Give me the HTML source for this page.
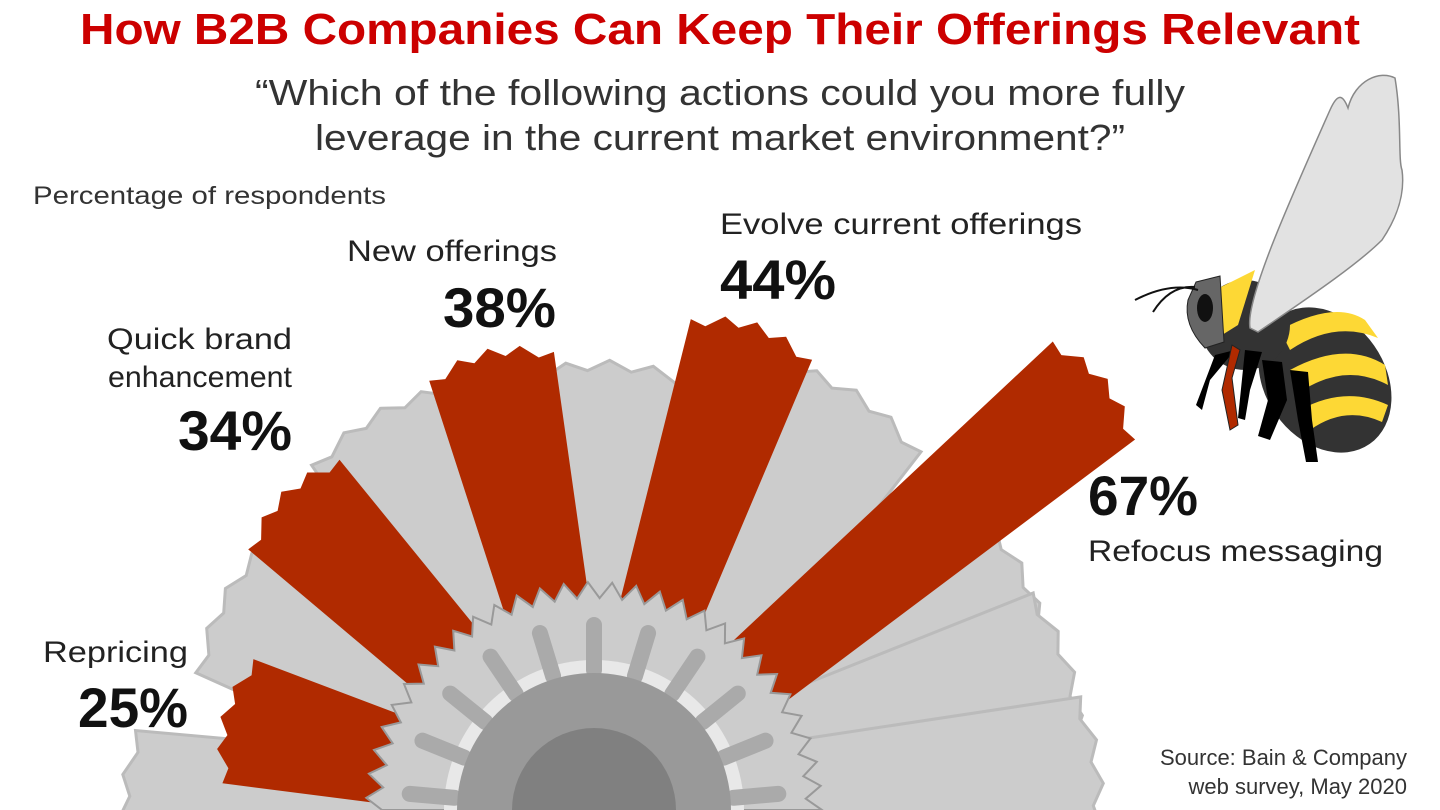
<!DOCTYPE html>
<html><head><meta charset="utf-8"><style>
html,body{margin:0;padding:0;background:#fff;overflow:hidden;}
svg{display:block;font-family:"Liberation Sans",sans-serif;}
</style></head><body>
<svg id="chart" width="1440" height="810" viewBox="0 0 1440 810" xmlns="http://www.w3.org/2000/svg">
<g id="petals"></g>
<g id="bars"></g>
<g id="center"></g>
<text x="720" y="44" text-anchor="middle" font-size="44" font-weight="bold" fill="#cc0000" textLength="1280" lengthAdjust="spacingAndGlyphs">How B2B Companies Can Keep Their Offerings Relevant</text>
<text x="720" y="105" text-anchor="middle" font-size="36" fill="#333" textLength="930" lengthAdjust="spacingAndGlyphs">“Which of the following actions could you more fully</text>
<text x="720" y="150" text-anchor="middle" font-size="36" fill="#333" textLength="810" lengthAdjust="spacingAndGlyphs">leverage in the current market environment?”</text>
<text x="33" y="204" font-size="25" fill="#333" textLength="353" lengthAdjust="spacingAndGlyphs">Percentage of respondents</text>
<g id="labels"></g>
<text x="1407" y="765" text-anchor="end" font-size="22" fill="#333">Source: Bain &amp; Company</text>
<text x="1407" y="794" text-anchor="end" font-size="22" fill="#333">web survey, May 2020</text>
<g>
 <ellipse cx="1325" cy="380" rx="60" ry="78" transform="rotate(-35 1325 380)" fill="#333"/>
 <path d="M1280,330 Q1335,300 1365,320 L1378,338 Q1335,320 1290,350 Z" fill="#fdd835"/>
 <path d="M1290,370 Q1345,340 1385,365 L1388,385 Q1345,362 1300,392 Z" fill="#fdd835"/>
 <path d="M1300,410 Q1345,385 1388,405 L1382,422 Q1345,405 1310,430 Z" fill="#fdd835"/>
 <ellipse cx="1245" cy="325" rx="45" ry="45" fill="#333"/>
 <path d="M1215,290 L1255,270 L1238,325 L1222,335 Z" fill="#fdd835"/>
 <path d="M1250,328 C1245,300 1290,200 1330,110 C1338,92 1343,95 1348,108 C1355,80 1380,70 1395,78 C1402,120 1398,160 1402,170 C1406,200 1392,225 1382,240 C1360,262 1320,290 1258,332 Z" fill="#e2e2e2" stroke="#888" stroke-width="1.5"/>
 <path d="M1196,282 L1220,276 L1224,342 L1205,348 Q1183,325 1188,300 Z" fill="#666" stroke="#222"/>
 <ellipse cx="1205" cy="308" rx="8" ry="14" fill="#111"/>
 <path d="M1198,290 Q1170,282 1135,300 M1195,287 Q1170,285 1153,312" stroke="#111" stroke-width="2" fill="none"/>
 <path d="M1215,355 L1235,350 L1210,380 L1202,410 L1196,405 Z M1245,350 L1262,352 L1250,390 L1245,420 L1238,418 Z M1262,360 L1282,362 L1287,400 L1270,440 L1258,436 L1268,400 Z M1290,370 L1308,372 L1312,420 L1318,462 L1306,462 L1298,420 Z" fill="#000"/>
 <path d="M1232,345 L1240,350 L1232,378 L1238,425 L1230,430 L1222,390 Z" fill="#b02a00" stroke="#222"/>
</g>
</svg>
<script>
const categories = ["Repricing","Quick brand enhancement","New offerings","Evolve current offerings","Refocus messaging"];
const values = [25,34,38,44,67];
const tickLabels = ["25%","34%","38%","44%","67%"];

const NS="http://www.w3.org/2000/svg";
const cx=594, cy=810;
function rScale(v){return 215+6.8*v;}
function angleOf(i){return 166-i*31.5;}
function bar(a,R,w0,w1,r0){
  const t=a*Math.PI/180, ux=Math.cos(t), uy=-Math.sin(t), px=-uy, py=ux;
  const P=(r,o)=>[cx+ux*r+px*o, cy+uy*r+py*o];
  const pts=[P(r0,-w0/2),P(R-18,-w1/2)];
  const n=8;
  for(let k=0;k<=n;k++){
    const o=-w1/2+w1*k/n;
    const curve=18*(1-Math.pow(2*k/n-1,2));
    const notch=(k%2===1)?-10:0;
    pts.push(P(R-18+curve+notch,o));
  }
  pts.push(P(R-18,w1/2));pts.push(P(r0,w0/2));
  return pts.map(p=>p[0].toFixed(1)+","+p[1].toFixed(1)).join(" ");
}
const petalAngles=[181,149,118,88,58,30,16,3];
const petalLens=[475,430,455,450,495,494,500,510];
const pg=document.getElementById('petals');
petalAngles.forEach((a,i)=>{
  const p=document.createElementNS(NS,'polygon');
  p.setAttribute('points',bar(a,petalLens[i],90,175,60));
  p.setAttribute('fill','#cccccc');p.setAttribute('stroke','#bbbbbb');p.setAttribute('stroke-width','3');
  
  
  pg.appendChild(p);
});
const bg=document.getElementById('bars');
values.forEach((v,i)=>{
  const p=document.createElementNS(NS,'polygon');
  p.setAttribute('points',bar(angleOf(i),rScale(v),70,128,120));
  p.setAttribute('fill','#b02a00');
  
  
  bg.appendChild(p);
});
const cg=document.getElementById('center');
function serrCircle(r,depth,n,fill,stroke){
  const pts=[];
  for(let k=0;k<n*2;k++){const a=180*k/(n*2-1);const rr=k%2?r-depth:r;const t=a*Math.PI/180;pts.push((cx+rr*Math.cos(t)).toFixed(1)+","+(cy-rr*Math.sin(t)).toFixed(1));}
  const p=document.createElementNS(NS,'polygon');
  p.setAttribute('points',pts.join(" "));p.setAttribute('fill',fill);
  if(stroke){p.setAttribute('stroke',stroke);p.setAttribute('stroke-width','2');}
  return p;
}
const ring=serrCircle(228,16,30,'#cccccc','#999999');


cg.appendChild(ring);
function circ(r,fill,name){const c=document.createElementNS(NS,'circle');c.setAttribute('cx',cx);c.setAttribute('cy',cy);c.setAttribute('r',r);c.setAttribute('fill',fill);


cg.appendChild(c);}
circ(150,'#e8e8e8','light-ring');
for(let k=0;k<11;k++){
  const a=5+k*17;
  const l=document.createElementNS(NS,'line');
  const t=a*Math.PI/180;
  l.setAttribute('x1',cx+140*Math.cos(t));l.setAttribute('y1',cy-140*Math.sin(t));l.setAttribute('x2',cx+185*Math.cos(t));l.setAttribute('y2',cy-185*Math.sin(t));
  l.setAttribute('stroke','#aaaaaa');l.setAttribute('stroke-width','16');l.setAttribute('stroke-linecap','round');
  
  
  cg.appendChild(l);
}
circ(137,'#999999','mid-disk');
circ(82,'#808080','inner-disk');
const lg=document.getElementById('labels');
function txt(x,y,s,size,weight,anchor,name,len){const t=document.createElementNS(NS,'text');t.setAttribute('x',x);t.setAttribute('y',y);t.setAttribute('font-size',size);t.setAttribute('font-weight',weight);t.setAttribute('text-anchor',anchor);t.setAttribute('fill',weight==='bold'?'#111':'#222');
if(len){t.setAttribute('textLength',len);t.setAttribute('lengthAdjust','spacingAndGlyphs');}
t.textContent=s;


lg.appendChild(t);}
const lbl=[
 {lines:[["Repricing",43,662,"start",145]],val:[188,727,"end",110]},
 {lines:[["Quick brand",292,349,"end",185],["enhancement",292,387,"end",184]],val:[292,450,"end",114]},
 {lines:[["New offerings",557,261,"end",210]],val:[556,327,"end",113]},
 {lines:[["Evolve current offerings",720,234,"start",362]],val:[720,299,"start",116]},
 {lines:[["Refocus messaging",1088,561,"start",295]],val:[1088,515,"start",110]}
];
lbl.forEach((L,i)=>{
  L.lines.forEach(l=>txt(l[1],l[2],l[0],30,'normal',l[3],'category-label',l[4]));
  txt(L.val[0],L.val[1],tickLabels[i],56,'bold',L.val[2],'value-label',L.val[3]);
});
</script>
</body></html>
